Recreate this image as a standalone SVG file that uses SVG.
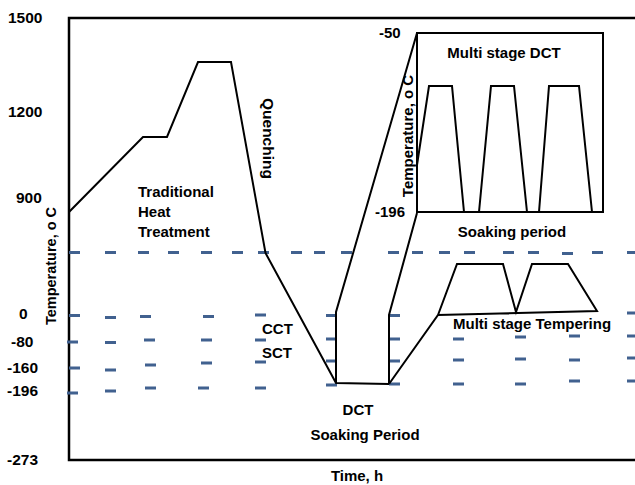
<svg xmlns="http://www.w3.org/2000/svg" width="635" height="485" viewBox="0 0 635 485">
<style>
text{font-family:"Liberation Sans",Arial,sans-serif;font-weight:bold;font-size:15px;fill:#000}
.num{font-size:15.5px}
.ax{fill:none;stroke:#000;stroke-width:2.5}
.cv{fill:none;stroke:#000;stroke-width:2;stroke-linejoin:miter}
.d{stroke:#41618f;stroke-width:3}
</style>
<rect width="635" height="485" fill="#fff"/>
<g id="axes">
<polyline class="ax" points="635,18 69,18 69,460 635,460"/>
</g>
<g id="dashes" class="d">
<path d="M69,252.5h11M105,252.5h11M138,252.5h11M168,252.5h11M201,252.5h11M232,252.5h11M258,252.5h11M291,252.5h11M314,252.5h11M341,252.5h11M388,252.5h11M412,252.5h11M439,252.5h11M464,252.5h11M503,252.5h11M528,252.5h11M562,253.5h11M592,252.5h11M627,252.5h11"/>
<path d="M69,315.5h11M105,317.5h11M140,316.5h11M203,316.5h11M255,315h11M326,315.5h11M389,315.5h11M627,313h11"/>
<path d="M67,342h11M105,342.5h11M144,340h11M201,340h11M255,340h11M326,339h11M389,339h11M453,339h11M515,337h11M569,336h11M627,336h11"/>
<path d="M69,368h11M105,370h11M145,365h11M201,363h11M255,362h11M326,361h11M389,361h11M453,360h11M515,359h11M569,360h11M627,358h11"/>
<path d="M67,393h11M105,391h11M145,388h11M198,388h11M255,388h11M326,385h11M389,384h11M453,384h11M515,384h11M569,381h11M627,381h11"/>
</g>
<g id="curves">
<polyline class="cv" points="69,212 143,137 167,137 198,62 231,62 265.5,253 336,383 389,384"/>
<polyline class="cv" points="336,383 336,312 417,33"/>
<polyline class="cv" points="389,384 389,315 417,213"/>
<polyline class="cv" points="389,384 438,315 597,311 568,264 532,264 516,312 503,264 457,264 438,315"/>
</g>
<g id="inset">
<rect x="417" y="33" width="186" height="179" fill="#fff" stroke="#000" stroke-width="2"/>
<polyline class="cv" points="417,165 429,86 452,86 464,212"/>
<polyline class="cv" points="479,212 491,86 514,86 527,212"/>
<polyline class="cv" points="539,212 549,86 579,86 592,212"/>
<text x="504" y="58" text-anchor="middle">Multi stage DCT</text>
<text x="512" y="237" text-anchor="middle">Soaking period</text>
<text transform="translate(413,136) rotate(-90)" text-anchor="middle">Temperature, o C</text>
<text x="379" y="38">-50</text>
<text x="375" y="217">-196</text>
</g>
<g id="labels">
<text class="num" x="8" y="23">1500</text>
<text class="num" x="8" y="117">1200</text>
<text class="num" x="16" y="203">900</text>
<text class="num" x="19" y="319">0</text>
<text class="num" x="11" y="347">-80</text>
<text class="num" x="7" y="373">-160</text>
<text class="num" x="7" y="396">-196</text>
<text class="num" x="7" y="465">-273</text>
<text transform="translate(56,266) rotate(-90)" text-anchor="middle" style="font-size:14.5px">Temperature, o C</text>
<text x="138" y="197">Traditional</text>
<text x="138" y="217">Heat</text>
<text x="138" y="237">Treatment</text>
<text transform="translate(263,98) rotate(90)" style="font-size:15.5px">Quenching</text>
<text x="262" y="334">CCT</text>
<text x="262" y="358">SCT</text>
<text x="358" y="415" text-anchor="middle">DCT</text>
<text x="365" y="440" text-anchor="middle">Soaking Period</text>
<text x="357" y="481" text-anchor="middle">Time, h</text>
<text x="453" y="329">Multi stage Tempering</text>
</g>
</svg>
